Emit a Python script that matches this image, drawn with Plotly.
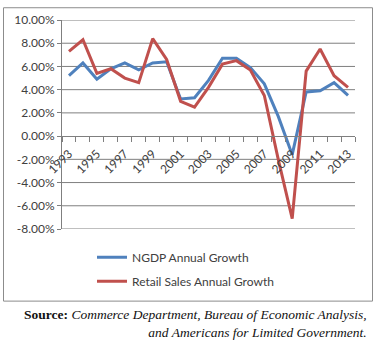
import plotly.graph_objects as go

years = list(range(1993, 2014))
ngdp = [5.2, 6.3, 4.9, 5.8, 6.3, 5.7, 6.3, 6.4, 3.2, 3.3, 4.8, 6.7, 6.7, 5.9, 4.5, 1.7, -1.6, 3.8, 3.9, 4.6, 3.5]
retail = [7.3, 8.3, 5.4, 5.8, 5.0, 4.6, 8.4, 6.6, 3.0, 2.5, 4.2, 6.2, 6.5, 5.7, 3.5, -2.0, -7.1, 5.6, 7.5, 5.2, 4.2]
x_labels = [str(y) for y in range(1993, 2014, 2)]
y_ticks = [-8, -6, -4, -2, 0, 2, 4, 6, 8, 10]
y_labels = ["%.2f%%" % v for v in y_ticks]

W, H = 375, 353
L, R, T, B = 62, 355, 16, 229
pw, ph = R - L, B - T

def px2x(px):
    return (px - L) / pw

def py2y(py):
    return (B - py) / ph

ymin, ymax = -8, 10
xmin, xmax = years[0] - 0.5, years[-1] + 0.5
boundaries = [y - 0.5 for y in years] + [years[-1] + 0.5]
boundary_text = [str(int(b + 0.5)) if str(int(b + 0.5)) in x_labels else "" for b in boundaries]
cat_px = pw / len(years)
font = "Lato, 'Open Sans', sans-serif"
grid_color = "#7f7f7f"

fig = go.Figure()

# horizontal gridlines at the y tick values
gx, gy = [], []
for v in y_ticks:
    if v == 0:
        continue
    gx += [xmin, xmax, None]
    gy += [v, v, None]
fig.add_trace(go.Scatter(x=gx, y=gy, mode="lines", line=dict(color=grid_color, width=1),
                         showlegend=False, hoverinfo="skip"))

fig.add_trace(go.Scatter(x=years, y=ngdp, mode="lines", name="NGDP Annual Growth",
                         line=dict(color="#4F81BD", width=3), legendgroup="a"))
fig.add_trace(go.Scatter(x=years, y=retail, mode="lines", name="Retail Sales Annual Growth",
                         line=dict(color="#C0504D", width=3), legendgroup="b"))

zero_pos = (0 - ymin) / (ymax - ymin)

fig.update_layout(
    width=W, height=H,
    margin=dict(l=L, r=W - R, t=T, b=H - B),
    paper_bgcolor="white", plot_bgcolor="white",
    font=dict(family=font, size=11, color="#404040"),
    showlegend=True,
    legend=dict(x=px2x(92), y=py2y(243), xanchor="left", yanchor="top",
                font=dict(family=font, size=12, color="#404040"),
                tracegroupgap=5, bgcolor="rgba(0,0,0,0)"),
    xaxis=dict(range=[xmin, xmax], anchor="free", position=zero_pos,
               tickmode="array", tickvals=boundaries, ticktext=boundary_text,
               ticklabelshift=int(round(cat_px / 2)), tickangle=-45,
               ticks="outside", ticklen=5, tickcolor=grid_color, tickwidth=1,
               showgrid=False, zeroline=False,
               showline=True, linecolor=grid_color, linewidth=1,
               tickfont=dict(family=font, size=12, color="#404040")),
    yaxis=dict(range=[ymin, ymax], tickmode="array", tickvals=y_ticks, ticktext=y_labels,
               showgrid=False, zeroline=False,
               showline=True, linecolor=grid_color, linewidth=1,
               ticks="outside", ticklen=4, tickcolor=grid_color, tickwidth=1,
               tickfont=dict(family=font, size=12, color="#404040")),
)

fig.add_shape(type="rect", xref="paper", yref="paper",
              x0=px2x(3.5), x1=px2x(372.5), y0=py2y(302.5), y1=py2y(3.5),
              line=dict(color="#8c8c8c", width=1), fillcolor="rgba(0,0,0,0)", layer="above")

fig.add_annotation(xref="paper", yref="paper", x=px2x(369), y=py2y(306),
                   xanchor="right", yanchor="top", align="right", showarrow=False,
                   text="<b>Source:</b> <i>Commerce Department, Bureau of Economic Analysis,</i><br><i>and Americans for Limited Government.</i>",
                   font=dict(family="'Liberation Serif', 'DejaVu Serif', serif", size=13.5, color="#111"))

fig.write_html("out.html")
